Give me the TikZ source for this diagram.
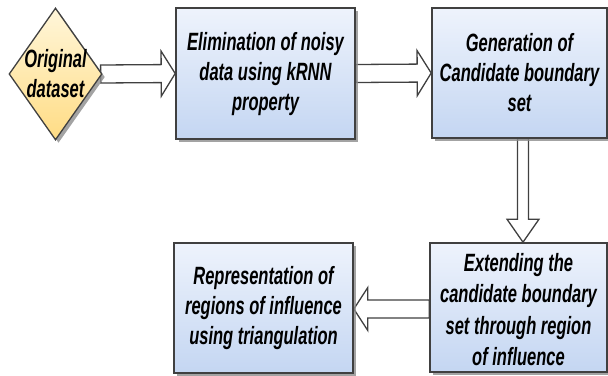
\documentclass[tikz,border=0pt]{standalone}
\usepackage{fontspec}
\newfontfamily\narrowsans{Liberation Sans}[FakeStretch=0.66]
\usetikzlibrary{shapes.geometric,shadows,calc,backgrounds}

\definecolor{edgegray}{HTML}{404040}
\definecolor{boxtop}{HTML}{EEF3FC}
\definecolor{boxbottom}{HTML}{C4D6F2}
\definecolor{diatop}{HTML}{FFF6DA}
\definecolor{diabottom}{HTML}{FFDC84}

\tikzset{
  stepbox/.style={draw=edgegray, line width=1.6pt, rectangle,
    top color=boxtop, bottom color=boxbottom,
    drop shadow={shadow xshift=3pt, shadow yshift=-3pt, fill=black!45, opacity=0.8},
    align=center, inner sep=0pt},
  decision/.style={draw=edgegray, line width=1.3pt, diamond,
    top color=diatop, bottom color=diabottom,
    drop shadow={shadow xshift=3pt, shadow yshift=-3pt, fill=black!45, opacity=0.8},
    inner sep=0pt},
  label/.style={font=\narrowsans\bfseries\itshape\fontsize{25}{30}\selectfont,
    align=center, text=black, inner sep=0pt},
  fatarrow/.style={draw=edgegray, line width=1.3pt, fill=white, line join=miter}
}

% hollow block arrow from #1 to #2: shaft half width #3, head half width #4, head length #5
\newcommand\blockarrow[5]{%
  \path[fatarrow]
    ($(#1)!#3!90:(#2)$) --
    ($($(#2)!#5!(#1)$)!#3!90:(#2)$) --
    ($($(#2)!#5!(#1)$)!#4!90:(#2)$) --
    (#2) --
    ($($(#2)!#5!(#1)$)!#4!-90:(#2)$) --
    ($($(#2)!#5!(#1)$)!#3!-90:(#2)$) --
    ($(#1)!#3!-90:(#2)$) -- cycle;}

\begin{document}
\begin{tikzpicture}[x=1pt,y=-1pt]
\useasboundingbox (0,0) rectangle (608,375);

% start shape
\node[decision, minimum width=93pt, minimum height=132pt] (orig) at (55.5,74) {};
\node[label] (origtext) at (orig) {Original\\dataset};

% process steps
\node[stepbox, minimum width=179pt, minimum height=131pt] (elim) at (265.5,73.5) {};
\node[label] (elimtext) at ($(elim)+(0,1)$) {Elimination of noisy\\data using kRNN\\property};

\node[stepbox, minimum width=175pt, minimum height=130pt] (gen) at (519.5,73) {};
\node[label] (gentext) at (gen) {Generation of\\Candidate boundary\\set};

\node[stepbox, minimum width=177pt, minimum height=129pt] (ext) at (518.5,307.5) {};
\node[label, font=\narrowsans\bfseries\itshape\fontsize{25}{31.5}\selectfont] (exttext) at ($(ext)+(0,2)$) {Extending the\\candidate boundary\\set through region\\of influence};

\node[stepbox, minimum width=179pt, minimum height=130pt] (rep) at (263.5,308) {};
\node[label] (reptext) at (rep) {Representation of\\regions of influence\\using triangulation};

% flow between the steps
\coordinate (a1s) at ($(orig.east)+(-2,0)$);
\coordinate (a2s) at ($(elim.east)+(0,0)$);
\coordinate (a3s) at ($(gen.south)+(3.5,0)$);
\coordinate (a3e) at ($(ext.north)+(4.5,0)$);
\coordinate (a4s) at ($(ext.west)+(0,1.5)$);
\coordinate (a4e) at ($(rep.east)+(0,1)$);
\begin{scope}[on background layer]
  \blockarrow{a1s}{elim.west}{9pt}{22.5pt}{14pt}
  \blockarrow{a2s}{gen.west}{9pt}{22.5pt}{14pt}
  \blockarrow{a3s}{a3e}{5.5pt}{16pt}{23pt}
  \blockarrow{a4s}{a4e}{9pt}{21.5pt}{14pt}
\end{scope}
\end{tikzpicture}
\end{document}
